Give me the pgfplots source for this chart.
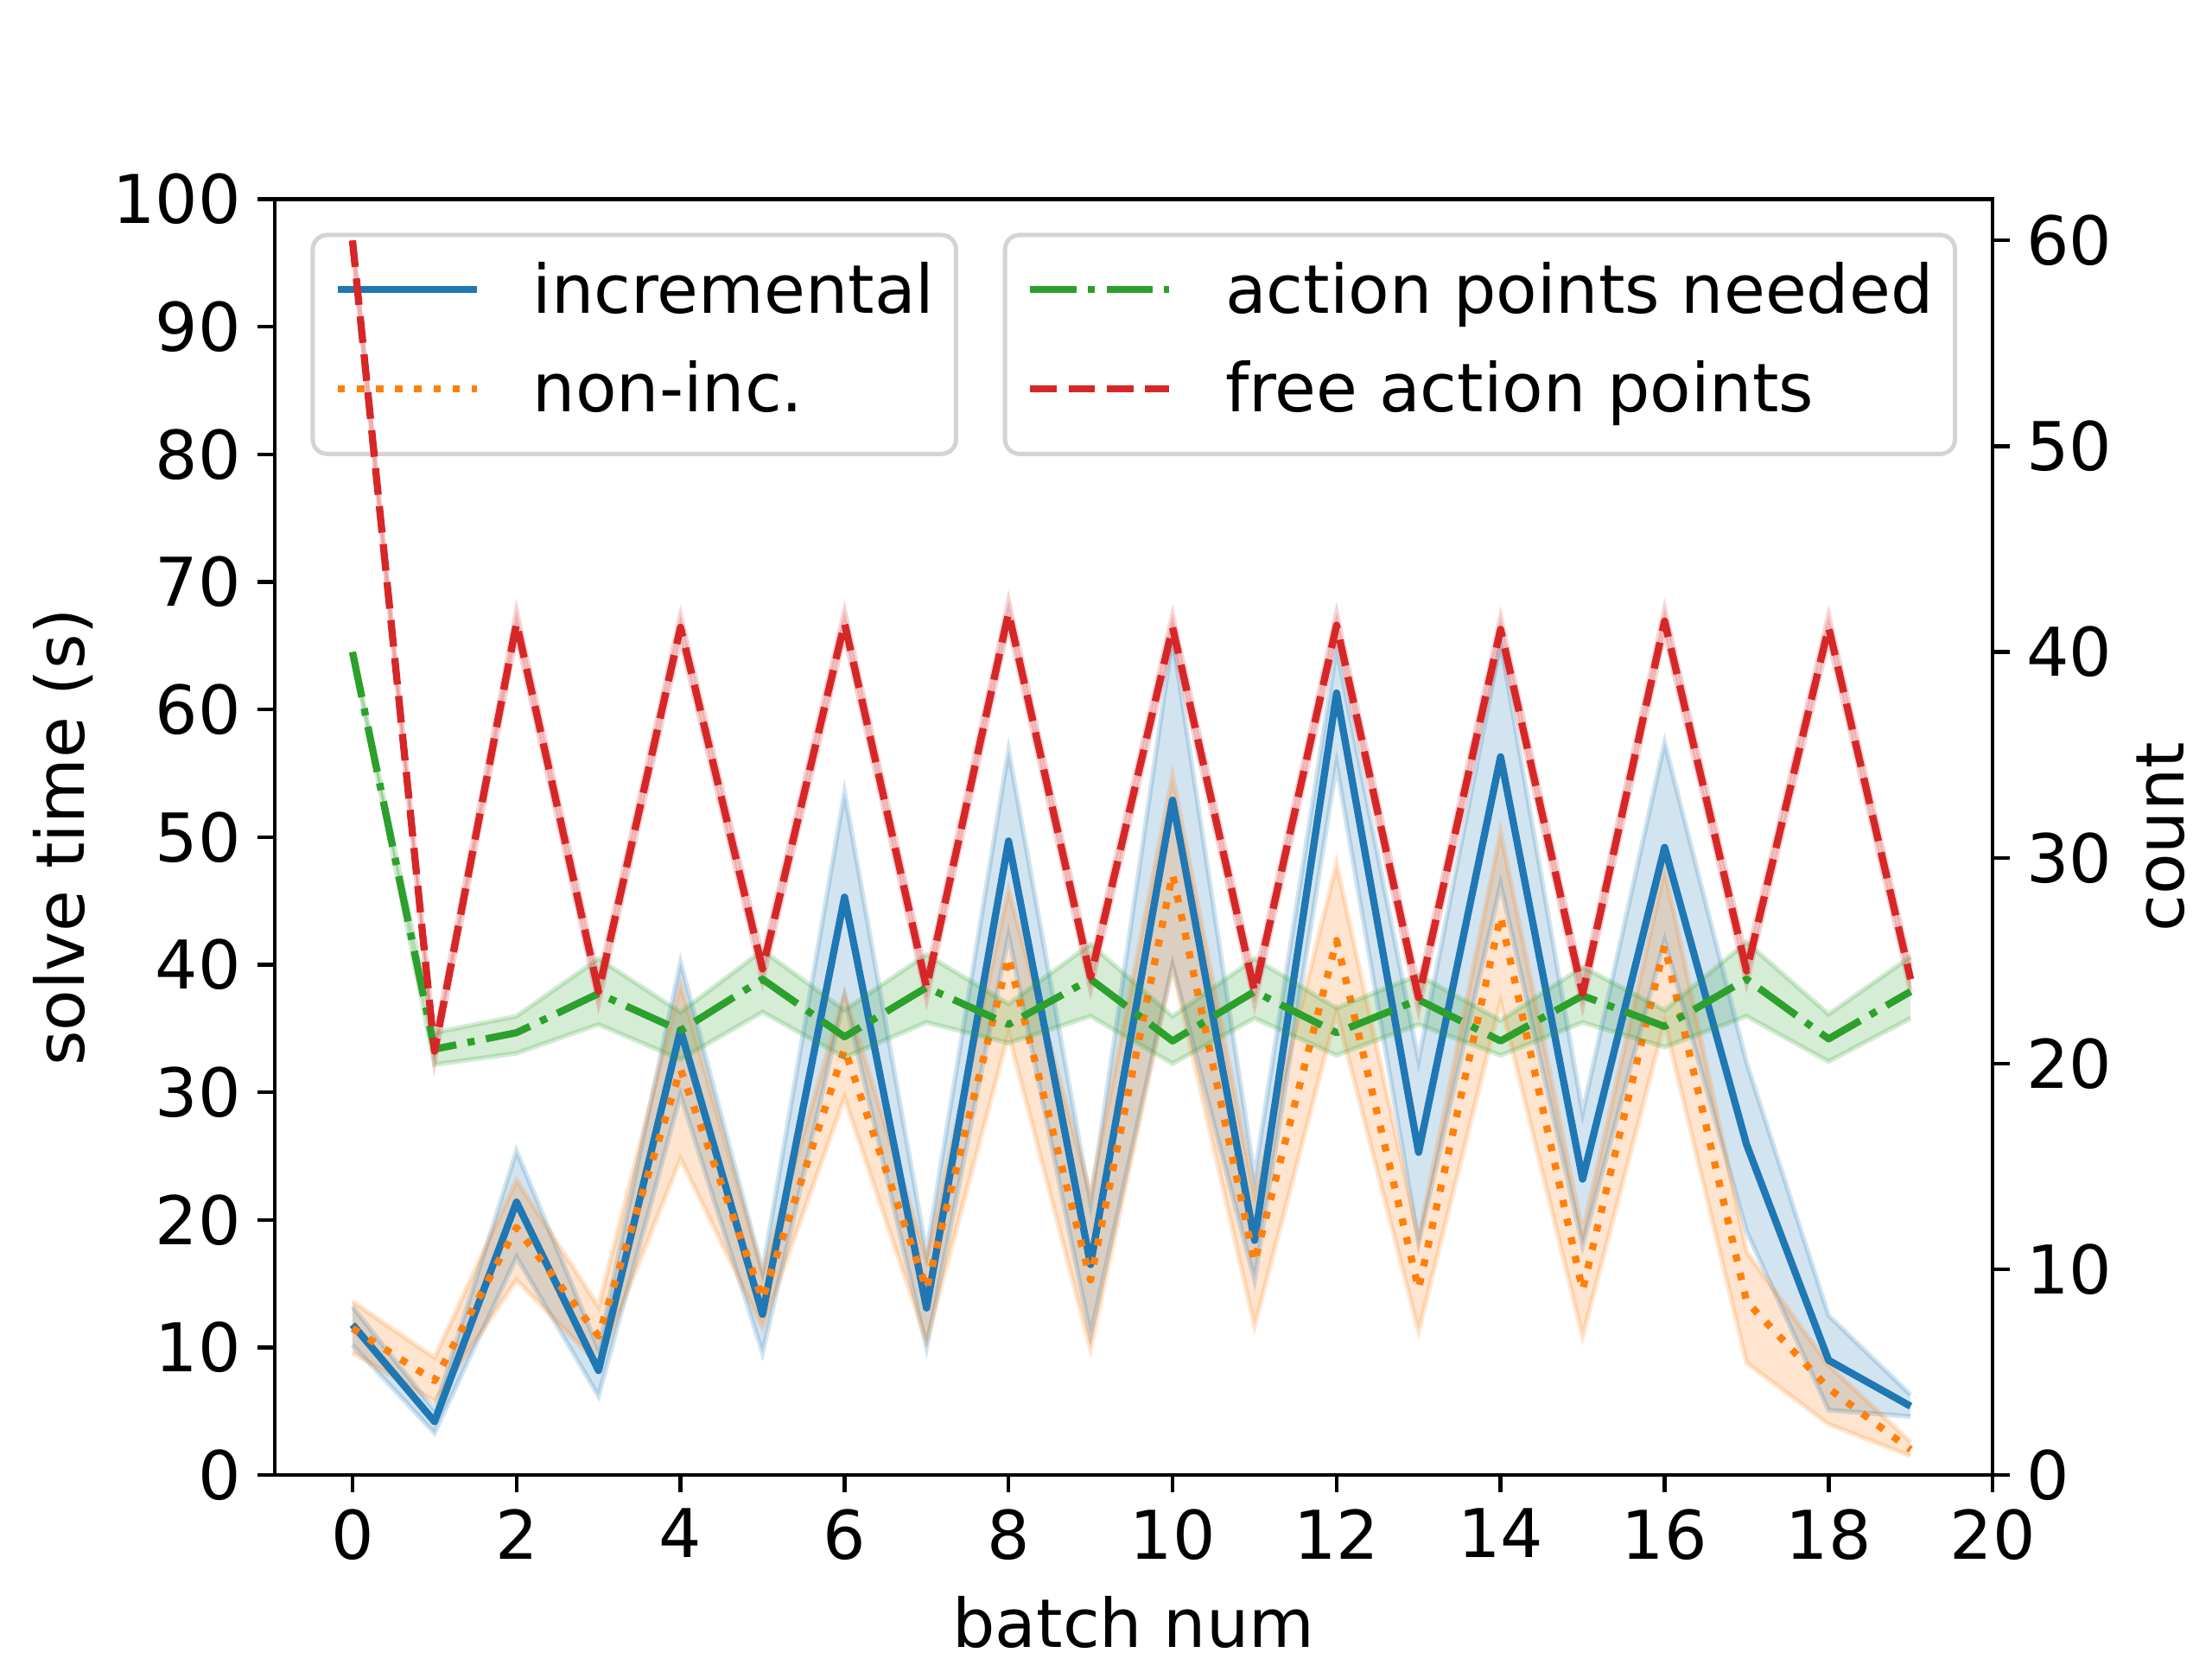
\documentclass[border=0pt]{standalone}
\usepackage{fontspec}
\setmainfont{DejaVu Sans}
\usepackage{pgfplots}
\usepackage{pgfplotstable}
\pgfplotsset{compat=1.18}
\usepgfplotslibrary{fillbetween}
\definecolor{tabblue}{HTML}{1F77B4}
\definecolor{taborange}{HTML}{FF7F0E}
\definecolor{tabgreen}{HTML}{2CA02C}
\definecolor{tabred}{HTML}{D62728}

\pgfplotstableread{
x m lo hi
0 11.8 10.2 13.2
1 4.2 3.3 5.1
2 21.4 17.1 25.4
3 8.2 6.2 9.9
4 34.9 29.8 40.2
5 12.6 9.6 16.0
6 45.3 37.5 53.5
7 13.1 10.0 17.4
8 49.7 42.3 56.8
9 16.5 11.0 21.3
10 52.9 40.0 65.6
11 18.4 15.3 23.4
12 61.3 55.7 64.8
13 25.3 18.2 32.5
14 56.3 46.3 65.2
15 23.2 18.0 28.4
16 49.2 41.9 57.4
17 25.9 19.1 32.3
18 9.0 5.1 12.5
19 5.4 4.6 6.3
}\inc

\pgfplotstableread{
x m lo hi
0 11.5 9.6 13.6
1 7.4 5.8 9.2
2 19.4 15.3 23.1
3 10.9 8.7 13.2
4 31.8 24.8 38.4
5 13.8 11.6 15.8
6 33.4 29.6 37.7
7 14.6 10.5 17.0
8 40.6 34.6 45.8
9 15.3 9.9 22.0
10 47.1 39.8 54.8
11 16.7 11.7 22.0
12 41.9 36.3 47.9
13 14.6 11.3 18.5
14 43.8 37.1 50.4
15 14.5 10.9 19.0
16 41.5 35.5 47.4
17 13.6 8.8 17.5
18 6.8 4.0 8.6
19 2.0 1.5 2.6
}\noninc

\pgfplotstableread{
x m lo hi
0 40.0 40.0 40.0
1 20.7 19.95 21.5
2 21.5 20.5 22.3
3 23.4 21.9 25.1
4 21.6 20.2 22.5
5 24.1 22.5 25.5
6 21.3 20.3 22.6
7 23.7 22.0 25.3
8 21.9 21.0 22.9
9 24.1 22.3 25.8
10 21.1 20.0 22.3
11 23.5 22.2 25.1
12 21.5 20.4 22.7
13 23.1 21.9 24.3
14 21.1 20.4 22.1
15 23.3 22.0 24.7
16 21.8 20.8 22.6
17 24.1 22.3 25.9
18 21.2 20.1 22.4
19 23.5 22.2 25.2
}\need

\pgfplotstableread{
x m lo hi
0 60.0 60.0 60.0
1 20.6 20.1 21.1
2 41.4 40.8 42.0
3 23.5 22.9 24.1
4 41.2 40.6 41.8
5 24.6 24.0 25.2
6 41.4 40.8 42.0
7 23.7 23.1 24.3
8 41.9 41.3 42.5
9 24.2 23.6 24.8
10 41.2 40.6 41.8
11 23.5 22.9 24.1
12 41.3 40.7 41.9
13 23.2 22.6 23.8
14 41.1 40.5 41.7
15 23.4 22.8 24.0
16 41.5 40.9 42.1
17 24.5 23.9 25.1
18 41.2 40.6 41.8
19 24.1 23.5 24.7
}\free

\begin{document}
\begin{tikzpicture}[font=\fontsize{14}{16.8}\selectfont]
\pgfplotsset{
  common/.style={
    scale only axis, width=357.9pt, height=265.8pt,
    at={(0,0)}, anchor=south west,
    xmin=-0.95, xmax=20,
    tick align=outside, major tick length=3.5pt,
    tick style={black, line width=0.8pt},
    axis line style={line width=0.8pt},
    /pgf/number format/assume math mode=true,
    legend image code/.code={\draw[##1] (0pt,4.9pt) -- (29pt,4.9pt);},
    legend style={
      draw=black!17, line width=0.9pt, rounded corners=3pt,
      fill=white, fill opacity=0.8, draw opacity=1, text opacity=1,
      inner xsep=4.5pt, inner ysep=2.2pt,
      column sep=10.9pt,
      cells={anchor=base west},
      nodes={inner xsep=0pt, inner ysep=3.5pt, text height=10.6pt, text depth=3pt},
    },
  },
  band/.style={draw=#1, draw opacity=0.2, line width=1pt, forget plot},
  bandfill/.style={fill=#1, fill opacity=0.2, draw=none, forget plot},
}
\begin{axis}[common,
  name=ax,
  ymin=0, ymax=100, ytick={0,10,...,100},
  xtick={0,2,...,20},
  xtick pos=bottom, ytick pos=left,
  ylabel={solve time (s)},
  ylabel style={at={(axis description cs:-0.123,0.5)}, anchor=center, inner sep=0pt},
  xlabel={batch num},
  xlabel style={at={(axis description cs:0.5,0)}, anchor=north, inner sep=0pt, yshift=-25pt},
  legend style={at={(0,1)}, anchor=north west, xshift=7.5pt, yshift=-7pt},
]
\addplot[band=tabblue, name path=ih] table[x=x,y=hi] {\inc};
\addplot[band=tabblue, name path=il] table[x=x,y=lo] {\inc};
\addplot[bandfill=tabblue] fill between[of=ih and il];
\addplot[band=taborange, name path=nh] table[x=x,y=hi] {\noninc};
\addplot[band=taborange, name path=nl] table[x=x,y=lo] {\noninc};
\addplot[bandfill=taborange] fill between[of=nh and nl];
\addplot[tabblue, line width=1.5pt, line join=round] table[x=x,y=m] {\inc};
\addlegendentry{incremental}
\addplot[taborange, line width=1.5pt, line join=round, line cap=butt, dash pattern=on 1.5pt off 2.475pt] table[x=x,y=m] {\noninc};
\addlegendentry{non-inc.}
\end{axis}
\begin{axis}[common,
  ymin=0, ymax=62, ytick={0,10,...,60},
  hide x axis, axis y line*=right,
  ylabel={count},
  ylabel style={at={(axis description cs:1.098,0.5)}, anchor=center, inner sep=0pt, rotate=0},
  legend style={at={(1,1)}, anchor=north east, xshift=-7.4pt, yshift=-7pt},
]
\addplot[band=tabgreen, name path=gh] table[x=x,y=hi] {\need};
\addplot[band=tabgreen, name path=gl] table[x=x,y=lo] {\need};
\addplot[bandfill=tabgreen] fill between[of=gh and gl];
\addplot[band=tabred, name path=rh] table[x=x,y=hi] {\free};
\addplot[band=tabred, name path=rl] table[x=x,y=lo] {\free};
\addplot[bandfill=tabred] fill between[of=rh and rl];
\addplot[tabgreen, line width=1.5pt, line join=round, line cap=butt, dash pattern=on 9.6pt off 2.4pt on 1.5pt off 2.4pt] table[x=x,y=m] {\need};
\addlegendentry{action points needed}
\addplot[tabred, line width=1.5pt, line join=round, line cap=butt, dash pattern=on 5.55pt off 2.4pt] table[x=x,y=m] {\free};
\addlegendentry{free action points}
\end{axis}
\pgfresetboundingbox
\path[use as bounding box] (-57.2pt,-38.3pt) rectangle (403.6pt,307.3pt);
\end{tikzpicture}
\end{document}
